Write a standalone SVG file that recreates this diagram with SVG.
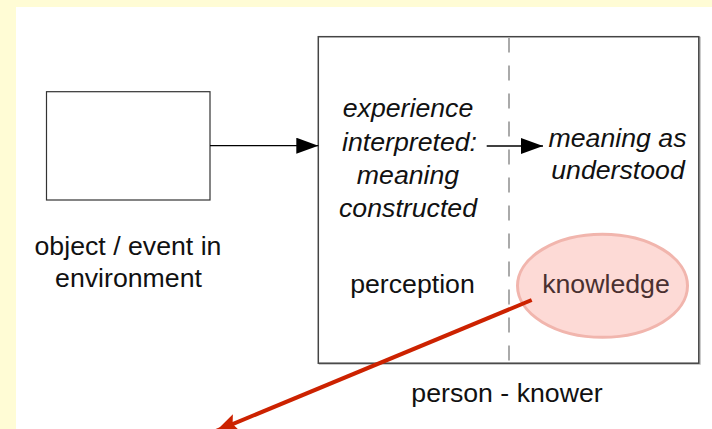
<svg xmlns="http://www.w3.org/2000/svg" width="712" height="429" viewBox="0 0 712 429">
<defs>
<style>
.t{font-family:"Liberation Sans",Arial,Helvetica,sans-serif;font-size:26.7px;fill:#111;text-anchor:middle}
.i{font-style:italic}
.box{fill:#fff;stroke:#444;stroke-width:1.5}
.conn{stroke:#000;stroke-width:1.3;fill:none}
</style>
<marker id="ah" markerUnits="userSpaceOnUse" markerWidth="24" markerHeight="18" refX="22" refY="8" orient="auto">
<path d="M0,0 L22,8 L0,16 Z" fill="#000"/>
</marker>
<marker id="rh" markerUnits="userSpaceOnUse" markerWidth="26" markerHeight="20" refX="22" refY="9" orient="auto">
<path d="M0,0 L22,9 L0,18 L4,9 Z" fill="#CC2200"/>
</marker>
</defs>
<rect x="0" y="0" width="712" height="429" fill="#FFFCD5"/>
<rect x="16" y="7" width="696" height="422" fill="#fff"/>

<g id="person-knower">
<rect x="319.5" y="37.5" width="380.5" height="326.5" fill="none" stroke="#bbb" stroke-width="1.5"/>
<rect class="box" x="318.3" y="36.7" width="380.5" height="326.5"/>
<line x1="509" y1="37.5" x2="509" y2="362.5" stroke="#aaa" stroke-width="2" stroke-dasharray="15 13"/>
<text class="t" x="507" y="401.7">person - knower</text>
</g>

<g id="object-event">
<rect x="46.5" y="91.7" width="163.5" height="108.3" fill="#fff" stroke="#333" stroke-width="1.2"/>
<text class="t" x="128" y="255">object / event in</text>
<text class="t" x="128.5" y="286.7">environment</text>
</g>

<g id="perception">
<text class="t i" x="408" y="117">experience</text>
<text class="t i" x="409.5" y="151">interpreted:</text>
<text class="t i" x="408" y="183.5">meaning</text>
<text class="t i" x="408" y="217">constructed</text>
<text class="t" x="412.5" y="293">perception</text>
</g>

<g id="meaning-understood">
<text class="t i" x="617.5" y="146.7">meaning as</text>
<text class="t i" x="618" y="179.3">understood</text>
</g>

<g id="knowledge">
<ellipse cx="602.5" cy="285.8" rx="85" ry="51.5" fill="#FDDAD6" stroke="#F1B5AD" stroke-width="3"/>
<text class="t" x="606" y="293.3" style="fill:#4A3030">knowledge</text>
</g>

<g id="connectors">
<line class="conn" x1="210" y1="145.7" x2="318.3" y2="145.7" marker-end="url(#ah)"/>
<line class="conn" x1="486.7" y1="146" x2="543" y2="146" marker-end="url(#ah)"/>
<line x1="531.7" y1="300" x2="216" y2="431" stroke="#CC2200" stroke-width="4" marker-end="url(#rh)"/>
</g>
</svg>
